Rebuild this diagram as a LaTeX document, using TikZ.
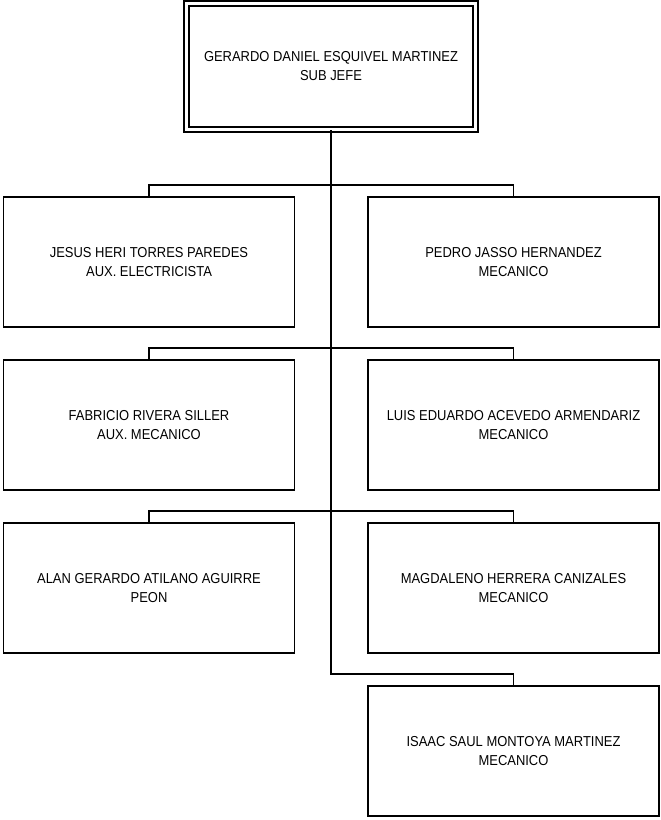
\documentclass[tikz,border=0pt]{standalone}
\usepackage{fontspec}
\setmainfont{Liberation Sans}[FakeStretch=0.9]
\usetikzlibrary{positioning}

\begin{document}
\begin{tikzpicture}[x=1pt,y=-1pt,
    puesto/.style={draw, line width=1.5pt, minimum width=291pt, minimum height=130pt,
      inner sep=0pt, align=center, font=\fontsize{14.4}{19}\selectfont},
    jefe/.style={puesto, double, double distance=3.4pt, line width=1.4pt, minimum width=289pt, minimum height=126pt},
    rama/.style={line width=1.3pt},
    tronco/.style={line width=2.6pt}]
    \useasboundingbox (0,0) rectangle (661,820);
    % jefe
    \node[jefe] (boss) at (331,66.5) {GERARDO DANIEL ESQUIVEL MARTINEZ\\SUB JEFE};
    % personal
    \node[puesto] (emp1) at (149,262) {JESUS HERI TORRES PAREDES\\AUX. ELECTRICISTA};
    \node[puesto] (emp2) at (513.5,262) {PEDRO JASSO HERNANDEZ\\MECANICO};
    \node[puesto] (emp3) at (149,425) {FABRICIO RIVERA SILLER\\AUX. MECANICO};
    \node[puesto] (emp4) at (513.5,425) {LUIS EDUARDO ACEVEDO ARMENDARIZ\\MECANICO};
    \node[puesto] (emp5) at (149,588) {ALAN GERARDO ATILANO AGUIRRE\\PEON};
    \node[puesto] (emp6) at (513.5,588) {MAGDALENO HERRERA CANIZALES\\MECANICO};
    \node[puesto] (emp7) at (513.5,751) {ISAAC SAUL MONTOYA MARTINEZ\\MECANICO};
    \coordinate (j1) at (331,185);
    \coordinate (j2) at (331,348);
    \coordinate (j3) at (331,511);
    \coordinate (j4) at (331,674);
    \draw[tronco] (boss.south) -- (j3);
    \draw[rama] (j3) -- (j4) -| (emp7.north);
    \draw[rama] (emp1.north) |- (j1) -| (emp2.north);
    \draw[rama] (emp3.north) |- (j2) -| (emp4.north);
    \draw[rama] (emp5.north) |- (j3) -| (emp6.north);
\end{tikzpicture}
\end{document}
